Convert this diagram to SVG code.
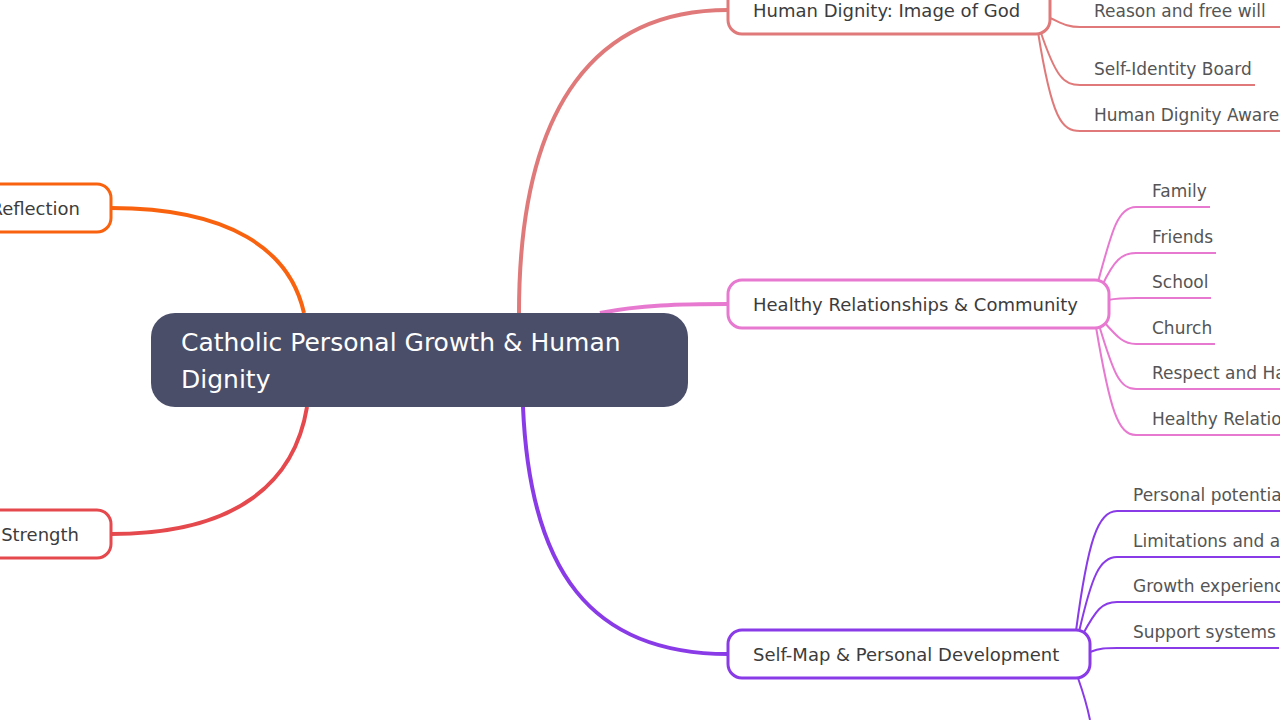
<svg xmlns="http://www.w3.org/2000/svg" width="1280" height="720" viewBox="0 0 1280 720">
<style>
text{font-family:"DejaVu Sans","Noto Sans",sans-serif}
.n{fill:#fff;stroke-width:3}
.nt{font-size:18px;fill:#3c3c3c}
.lt{font-size:17px;fill:#555}
.c{fill:none;stroke-width:4}
.l{fill:none;stroke-width:2}
</style>
<rect width="1280" height="720" fill="#fff"/>
<g id="connectors">
<path class="c" stroke="#e07a7a" d="M519,313 C519,100 600,10 728,10"/>
<path class="c" stroke="#e879d0" d="M600,313 C640,305 680,304 728,304"/>
<path class="c" stroke="#8a3be8" d="M523,407 C530,570 590,654 728,654"/>
<path class="c" stroke="#f9630f" d="M304,313 C290,250 230,208 111,208"/>
<path class="c" stroke="#e5484d" d="M307,407 C295,480 240,534 111,534"/>
<g stroke="#e07a7a">
<path class="l" d="M1050,18 C1060,22 1066,27 1080,27 L1280,27"/>
<path class="l" d="M1040,30 C1056,78 1064,85 1080,85 L1255,85"/>
<path class="l" d="M1038,32 C1052,120 1062,131 1080,131 L1280,131"/>
</g>
<g stroke="#e879d0">
<path class="l" d="M1098,282 C1112,230 1118,207 1136,207 L1210,207"/>
<path class="l" d="M1102,286 C1114,260 1122,253 1136,253 L1216,253"/>
<path class="l" d="M1108,300 C1118,298 1124,298 1136,298 L1211,298"/>
<path class="l" d="M1104,322 C1118,338 1124,344 1136,344 L1215,344"/>
<path class="l" d="M1099,325 C1114,375 1120,389 1136,389 L1280,389"/>
<path class="l" d="M1096,327 C1110,410 1118,435 1136,435 L1280,435"/>
</g>
<g stroke="#8a3be8">
<path class="l" d="M1076,631 C1088,540 1098,511 1117,511 L1280,511"/>
<path class="l" d="M1079,632 C1092,575 1100,557 1117,557 L1280,557"/>
<path class="l" d="M1083,634 C1096,610 1102,602 1117,602 L1280,602"/>
<path class="l" d="M1090,652 C1100,648 1106,648 1117,648 L1279,648"/>
<path class="l" d="M1078,678 C1084,695 1088,710 1090,720"/>
</g>
</g>
<g id="center">
<rect x="151" y="313" width="537" height="94" rx="24" fill="#4a4e69"/>
<text x="181" y="351" font-size="25" fill="#fff">Catholic Personal Growth &amp; Human</text>
<text x="181" y="388" font-size="25" fill="#fff">Dignity</text>
</g>
<g id="dignity">
<rect class="n" x="728" y="-14" width="322" height="48" rx="14" stroke="#e07a7a"/>
<text class="nt" x="753" y="17">Human Dignity: Image of God</text>
<text class="lt" x="1094" y="17">Reason and free will</text>
<text class="lt" x="1094" y="75">Self-Identity Board</text>
<text class="lt" x="1094" y="121">Human Dignity Awareness</text>
</g>
<g id="relationships">
<rect class="n" x="728" y="280" width="381" height="48" rx="14" stroke="#e879d0"/>
<text class="nt" x="753" y="311">Healthy Relationships &amp; Community</text>
<text class="lt" x="1152" y="197">Family</text>
<text class="lt" x="1152" y="243">Friends</text>
<text class="lt" x="1152" y="288">School</text>
<text class="lt" x="1152" y="334">Church</text>
<text class="lt" x="1152" y="379">Respect and Harmony</text>
<text class="lt" x="1152" y="425">Healthy Relationships</text>
</g>
<g id="selfmap">
<rect class="n" x="728" y="630" width="362" height="48" rx="14" stroke="#8a3be8"/>
<text class="nt" x="753" y="661">Self-Map &amp; Personal Development</text>
<text class="lt" x="1133" y="501">Personal potential</text>
<text class="lt" x="1133" y="547">Limitations and areas</text>
<text class="lt" x="1133" y="592">Growth experiences</text>
<text class="lt" x="1133" y="638">Support systems</text>
</g>
<g id="reflection">
<rect class="n" x="-100" y="184" width="211" height="48" rx="14" stroke="#f9630f"/>
<text class="nt" x="80" y="215" text-anchor="end">Reflection</text>
</g>
<g id="strength">
<rect class="n" x="-100" y="510" width="211" height="48" rx="14" stroke="#e5484d"/>
<text class="nt" x="79" y="541" text-anchor="end">Strength</text>
</g>
</svg>
